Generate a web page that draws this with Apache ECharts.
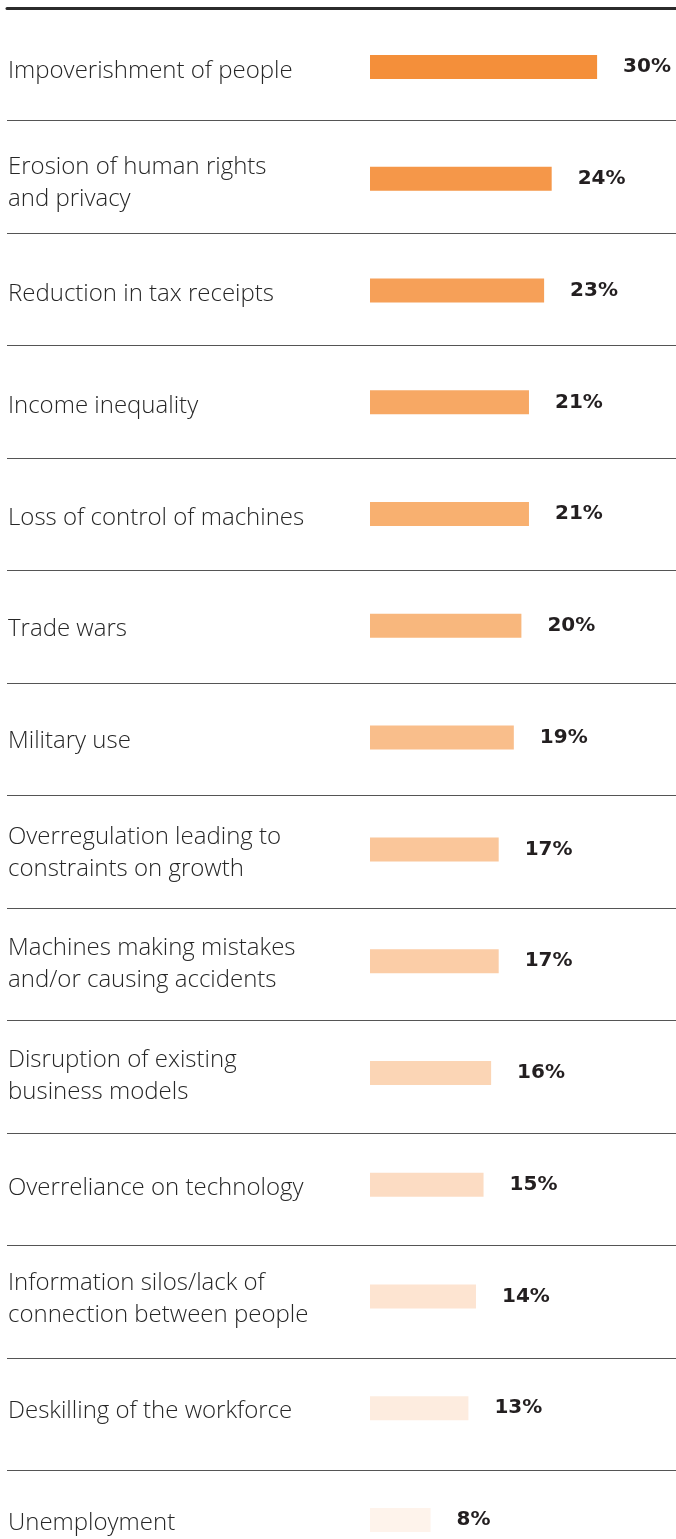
<!DOCTYPE html>
<html>
<head>
<meta charset="utf-8">
<script src="https://cdn.jsdelivr.net/npm/echarts@6/dist/echarts.min.js"></script>
<style>html,body{margin:0;padding:0;background:#fff;}#c{width:676px;height:1539px;}</style>
</head>
<body>
<div id="c"></div>
<script>
const categories = [
  "Impoverishment of people",
  "Erosion of human rights\nand privacy",
  "Reduction in tax receipts",
  "Income inequality",
  "Loss of control of machines",
  "Trade wars",
  "Military use",
  "Overregulation leading to\nconstraints on growth",
  "Machines making mistakes\nand/or causing accidents",
  "Disruption of existing\nbusiness models",
  "Overreliance on technology",
  "Information silos/lack of\nconnection between people",
  "Deskilling of the workforce",
  "Unemployment"
];
const values = [30, 24, 23, 21, 21, 20, 19, 17, 17, 16, 15, 14, 13, 8];
const barColors = ["#F48F3A","#F59749","#F6A058","#F7A864","#F8B070","#F8B77D","#F9BE8B","#FAC69A","#FBCDA7","#FBD5B5","#FCDCC3","#FDE4D1","#FDECDF","#FEF3EB"];

const chart = echarts.init(document.getElementById('c'), null, {renderer: 'canvas'});
const n = categories.length;
chart.setOption({
  animation: false,
  grid: [
    {left: 370, width: 302.8, top: 67, height: 1453},
    {left: 7, right: 0, top: 8, height: 112.5 * (n - 1)},
    {left: 370, width: 302.8, top: 71, height: 1453}
  ],
  xAxis: [
    {gridIndex: 0, type: 'value', min: 0, max: 40, show: false},
    {gridIndex: 1, type: 'value', min: 0, max: 1, position: 'top',
     axisLine: {show: true, lineStyle: {color: '#2b2b2b', width: 3}},
     axisTick: {show: false}, axisLabel: {show: false}, splitLine: {show: false}},
    {gridIndex: 2, type: 'value', min: 0, max: 40, show: false}
  ],
  yAxis: [
    {gridIndex: 0, type: 'category', data: categories, inverse: true, boundaryGap: false,
     axisLine: {show: false}, axisTick: {show: false}, splitLine: {show: false}, axisLabel: {show: false}},
    {gridIndex: 1, type: 'category', data: categories.map((c, i) => String(i)), inverse: true, boundaryGap: false,
     axisLine: {show: false}, axisTick: {show: false}, axisLabel: {show: false},
     splitLine: {show: true, interval: 0, lineStyle: {color: '#555', width: 1.2}}},
    {gridIndex: 2, type: 'category', data: categories, inverse: true, boundaryGap: false,
     axisLine: {show: false}, axisTick: {show: false}, splitLine: {show: false},
     axisLabel: {align: 'left', margin: 362, color: '#262626', fontFamily: 'Open Sans', fontWeight: 300,
                 fontSize: 24, lineHeight: 32, interval: 0}}
  ],
  series: [
    {type: 'bar', xAxisIndex: 0, yAxisIndex: 0, barWidth: 24,
     data: values.map((v, i) => ({value: v, itemStyle: {color: barColors[i]}})),
     label: {show: true, position: 'right', distance: 26, formatter: '{c}%',
             color: '#231F20', fontFamily: 'DejaVu Sans', fontWeight: 'bold', fontSize: 20}}
  ]
});
</script>
</body>
</html>
